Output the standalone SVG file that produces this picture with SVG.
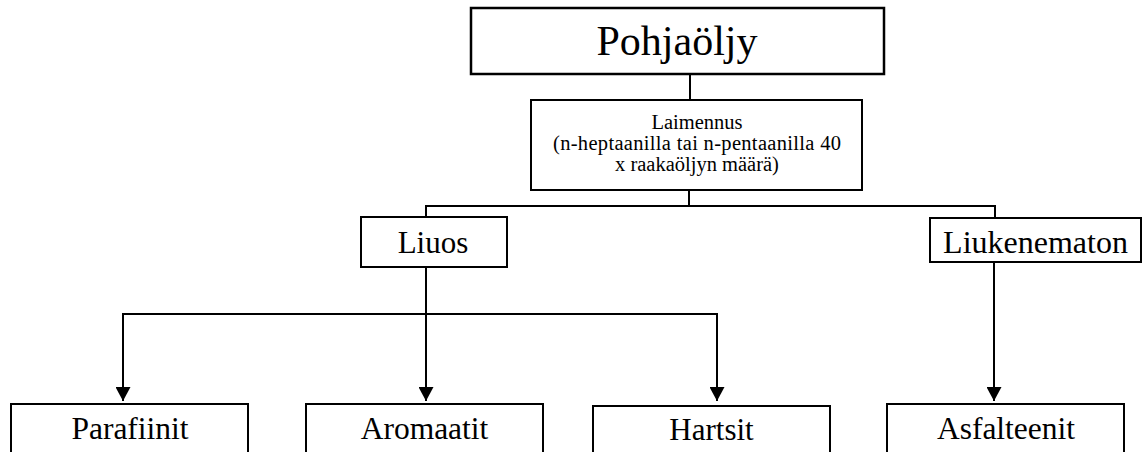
<svg xmlns="http://www.w3.org/2000/svg" width="1147" height="452" viewBox="0 0 1147 452">
  <style>
    .box { fill: #ffffff; stroke: #000000; stroke-width: 2; }
    text { font-family: 'Liberation Serif', 'DejaVu Serif', serif; fill: #000000; text-anchor: middle; }
    .line { fill: none; stroke: #000000; stroke-width: 2; }
  </style>
  <defs>
    <marker id="arrow" markerUnits="userSpaceOnUse" markerWidth="16" markerHeight="15" refX="14" refY="7.5" orient="auto">
      <path d="M0,0 L14,7.5 L0,15 z" fill="#000000"/>
    </marker>
  </defs>
  <rect width="1147" height="452" fill="#ffffff"/>

  <g id="connectors">
    <line class="line" x1="690" y1="74" x2="690" y2="100"/>
    <line class="line" x1="689" y1="190" x2="689" y2="206"/>
    <polyline class="line" points="426,217 426,206 995,206 995,218"/>
    <line class="line" x1="426" y1="267" x2="426" y2="314"/>
    <line class="line" x1="123" y1="314" x2="717" y2="314"/>
    <line class="line" x1="123" y1="313" x2="123" y2="401" marker-end="url(#arrow)"/>
    <line class="line" x1="426" y1="314" x2="426" y2="401" marker-end="url(#arrow)"/>
    <line class="line" x1="717" y1="313" x2="717" y2="401" marker-end="url(#arrow)"/>
    <line class="line" x1="994" y1="262" x2="994" y2="401" marker-end="url(#arrow)"/>
  </g>

  <g id="pohjaoljy">
    <rect class="box" x="471" y="8" width="413" height="66" style="stroke-width:2.5"/>
    <text font-family="Liberation Serif, serif" x="677" y="55" font-size="42">Pohjaöljy</text>
  </g>

  <g id="laimennus">
    <rect class="box" x="531" y="100" width="331" height="90"/>
    <text font-family="Liberation Serif, serif" x="697" y="129" font-size="20.5">Laimennus</text>
    <text font-family="Liberation Serif, serif" x="697" y="150" font-size="20.5" textLength="288" lengthAdjust="spacing">(n-heptaanilla tai n-pentaanilla 40</text>
    <text font-family="Liberation Serif, serif" x="697" y="170.5" font-size="20.5">x raakaöljyn määrä)</text>
  </g>

  <g id="liuos">
    <rect class="box" x="361" y="217" width="146" height="50"/>
    <text font-family="Liberation Serif, serif" x="433" y="253" font-size="31">Liuos</text>
  </g>

  <g id="liukenematon">
    <rect class="box" x="930" y="218" width="211" height="44"/>
    <text font-family="Liberation Serif, serif" x="1035.5" y="253" font-size="32">Liukenematon</text>
  </g>

  <g id="parafiinit">
    <rect class="box" x="11" y="404" width="237" height="60"/>
    <text font-family="Liberation Serif, serif" x="130" y="439" font-size="31.5">Parafiinit</text>
  </g>

  <g id="aromaatit">
    <rect class="box" x="306" y="404" width="237" height="60"/>
    <text font-family="Liberation Serif, serif" x="424.5" y="439" font-size="31.5">Aromaatit</text>
  </g>

  <g id="hartsit">
    <rect class="box" x="593" y="406" width="237" height="60"/>
    <text font-family="Liberation Serif, serif" x="711.5" y="440" font-size="31">Hartsit</text>
  </g>

  <g id="asfalteenit">
    <rect class="box" x="887" y="404" width="237" height="60"/>
    <text font-family="Liberation Serif, serif" x="1006" y="439" font-size="31.5">Asfalteenit</text>
  </g>
</svg>
